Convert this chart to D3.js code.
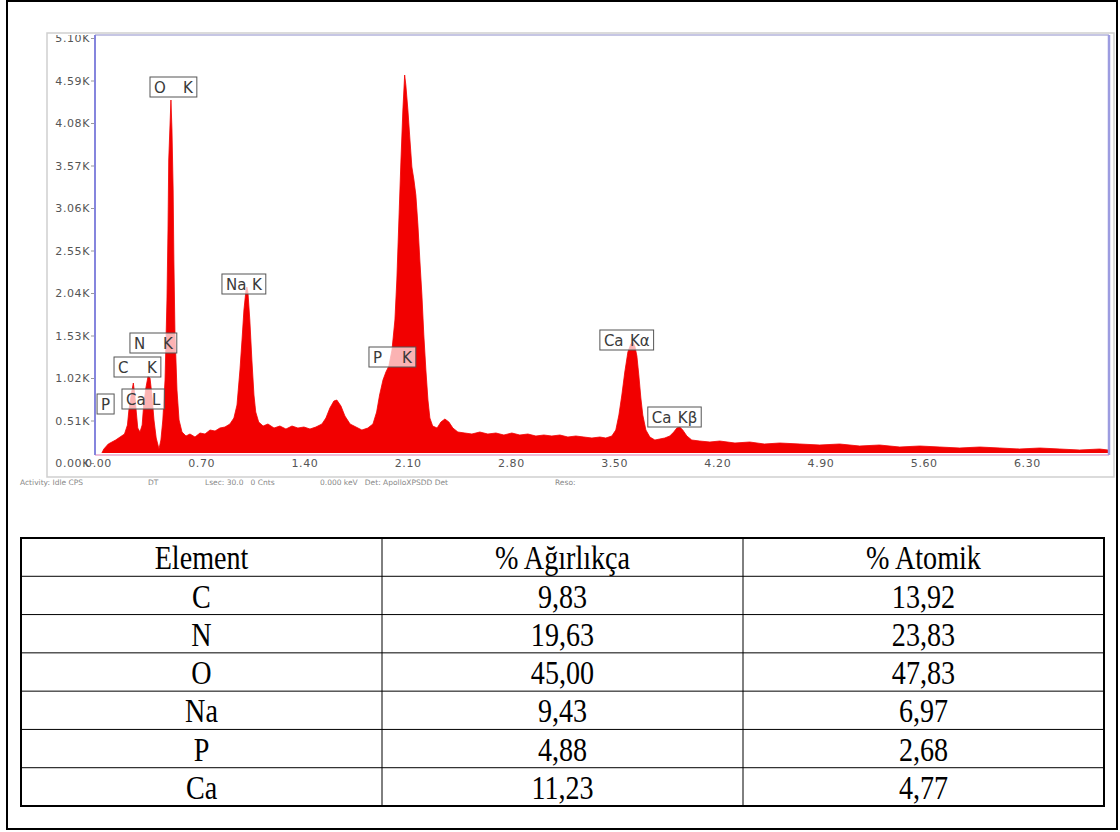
<!DOCTYPE html>
<html>
<head>
<meta charset="utf-8">
<title>EDS spektrumu</title>
<script src="https://d3js.org/d3.v7.min.js"></script>
<style>
  body { margin: 0; background: #fff; }
  svg { display: block; }
  .lbl text { font-family: "DejaVu Sans", Verdana, sans-serif; font-size: 15px; fill: #3a3a3a; }
  .tbl text { font-family: "Liberation Serif", "Times New Roman", serif; font-size: 29px; fill: #000; }
</style>
</head>
<body>
<svg id="chart" width="1120" height="832"></svg>
<script>
// spectrum: [keV, counts]
const spectrum = [
  [0.04, 96], [0.06, 168], [0.09, 228], [0.115, 252], [0.14, 276], [0.17, 312], [0.20, 348],
  [0.22, 456], [0.23, 636], [0.245, 816], [0.26, 960], [0.27, 816], [0.28, 612], [0.29, 420],
  [0.305, 372], [0.32, 456], [0.33, 696], [0.345, 900], [0.36, 1044], [0.373, 1020], [0.386, 816],
  [0.40, 516], [0.415, 300], [0.434, 168], [0.447, 276], [0.46, 516], [0.475, 996], [0.488, 1956],
  [0.495, 2796], [0.50, 3636], [0.51, 4116], [0.515, 4356], [0.522, 3996], [0.53, 3276],
  [0.535, 2436], [0.542, 1596], [0.556, 876], [0.57, 516], [0.59, 372], [0.617, 324], [0.644, 348],
  [0.678, 312], [0.712, 360], [0.746, 348], [0.78, 396], [0.814, 384], [0.847, 420], [0.881, 432],
  [0.915, 468], [0.942, 540], [0.963, 696], [0.983, 1116], [0.997, 1476], [1.01, 1836],
  [1.024, 2076], [1.03, 2112], [1.037, 2052], [1.05, 1716], [1.064, 1236], [1.078, 816],
  [1.09, 612], [1.11, 492], [1.14, 444], [1.173, 468], [1.214, 420], [1.254, 444], [1.295, 408],
  [1.336, 444], [1.376, 420], [1.417, 432], [1.458, 408], [1.498, 432], [1.539, 468], [1.566, 540],
  [1.593, 660], [1.62, 744], [1.64, 756], [1.668, 684], [1.695, 564], [1.73, 468], [1.77, 432],
  [1.81, 396], [1.85, 420], [1.885, 468], [1.91, 612], [1.93, 816], [1.953, 996], [1.973, 1092],
  [1.993, 1164], [2.014, 1356], [2.034, 1716], [2.047, 2196], [2.061, 2916], [2.075, 3636],
  [2.088, 4236], [2.10, 4656], [2.108, 4536], [2.122, 4236], [2.136, 3876], [2.149, 3552],
  [2.163, 3396], [2.176, 3216], [2.19, 2856], [2.203, 2436], [2.217, 2016], [2.23, 1536],
  [2.244, 1116], [2.258, 756], [2.271, 540], [2.29, 444], [2.32, 420], [2.346, 492], [2.373, 528],
  [2.40, 492], [2.427, 420], [2.461, 372], [2.508, 360], [2.556, 348], [2.61, 372], [2.664, 348],
  [2.719, 360], [2.773, 336], [2.827, 360], [2.881, 336], [2.936, 348], [2.99, 324], [3.044, 336],
  [3.098, 324], [3.153, 336], [3.207, 312], [3.261, 324], [3.315, 312], [3.37, 300], [3.424, 312],
  [3.464, 300], [3.505, 324], [3.532, 396], [3.553, 576], [3.573, 816], [3.593, 1092],
  [3.614, 1332], [3.634, 1428], [3.647, 1452], [3.661, 1404], [3.675, 1284], [3.688, 1056],
  [3.702, 780], [3.715, 576], [3.736, 396], [3.763, 312], [3.797, 276], [3.83, 288], [3.864, 300],
  [3.898, 324], [3.925, 372], [3.946, 420], [3.966, 432], [3.986, 396], [4.014, 324], [4.047, 276],
  [4.10, 264], [4.17, 252], [4.237, 264], [4.34, 240], [4.44, 252], [4.54, 228], [4.644, 240],
  [4.78, 228], [4.915, 216], [5.05, 228], [5.186, 204], [5.32, 216], [5.458, 192], [5.593, 204],
  [5.729, 192], [5.864, 180], [6.0, 192], [6.136, 180], [6.27, 168], [6.407, 180], [6.542, 168],
  [6.678, 156], [6.813, 168], [6.87, 156]
];

const yTicks = [0, 510, 1020, 1530, 2040, 2550, 3060, 3570, 4080, 4590, 5100];
const xTicks = [0, 0.7, 1.4, 2.1, 2.8, 3.5, 4.2, 4.9, 5.6, 6.3];

// peak labels: element, line, top-left anchor in [keV, counts]
const peakLabels = [
  { el: "P",  line: "",   keV: 0.014, cnt: 828 },
  { el: "Ca", line: "L",  keV: 0.183, cnt: 888 },
  { el: "C",  line: "K",  keV: 0.129, cnt: 1272 },
  { el: "N",  line: "K",  keV: 0.237, cnt: 1560 },
  { el: "O",  line: "K",  keV: 0.373, cnt: 4632 },
  { el: "Na", line: "K",  keV: 0.861, cnt: 2268 },
  { el: "P",  line: "K",  keV: 1.858, cnt: 1392 },
  { el: "Ca", line: "Kα", keV: 3.424, cnt: 1596 },
  { el: "Ca", line: "Kβ", keV: 3.749, cnt: 672 }
];

const tableHead = ["Element", "% Ağırlıkça", "% Atomik"];
const elements = ["C", "N", "O", "Na", "P", "Ca"];
const weightPct = ["9,83", "19,63", "45,00", "9,43", "4,88", "11,23"];
const atomicPct = ["13,92", "23,83", "47,83", "6,97", "2,68", "4,77"];

const statusText = ["Activity: Idle CPS", "DT", "Lsec: 30.0   0 Cnts", "0.000 keV   Det: ApolloXPSDD Det", "Reso:"];

const svg = d3.select("#chart");

// page frame
svg.append("rect").attr("x", 7).attr("y", 1).attr("width", 1110).attr("height", 828)
  .attr("fill", "#fff").attr("stroke", "#000").attr("stroke-width", 2);

// spectrum window
svg.append("rect").attr("x", 47).attr("y", 33).attr("width", 1067).attr("height", 444)
  .attr("fill", "#fff").attr("stroke", "#cfcfcf").attr("stroke-width", 1.5);

const x = d3.scaleLinear().domain([0, 6.87]).range([95, 1108]);
const y = d3.scaleLinear().domain([0, 5100]).range([463, 38]);

const plot = { x0: 95, y0: 35, x1: 1109, y1: 455 };

const defs = svg.append("defs");
defs.append("clipPath").attr("id", "plotclip")
  .append("rect").attr("x", plot.x0).attr("y", plot.y0)
  .attr("width", plot.x1 - plot.x0).attr("height", plot.y1 - plot.y0 - 2);
defs.append("clipPath").attr("id", "winclip")
  .append("rect").attr("x", 47).attr("y", 35).attr("width", 1067).attr("height", 442);

const area = d3.area()
  .x(d => x(d[0]))
  .y0(y(0))
  .y1(d => y(d[1]));

svg.append("path")
  .datum(spectrum)
  .attr("clip-path", "url(#plotclip)")
  .attr("fill", "#f20000")
  .attr("stroke", "#f20000")
  .attr("stroke-width", 0.8)
  .attr("d", area);

// plot borders
svg.append("line").attr("x1", plot.x0).attr("x2", plot.x1).attr("y1", plot.y0).attr("y2", plot.y0)
  .attr("stroke", "#c6c6e4").attr("stroke-width", 2);
svg.append("line").attr("x1", plot.x0).attr("x2", plot.x1).attr("y1", plot.y1).attr("y2", plot.y1)
  .attr("stroke", "#e7a8cc").attr("stroke-width", 1.5);
svg.append("line").attr("x1", plot.x0).attr("x2", plot.x0).attr("y1", plot.y0).attr("y2", plot.y1)
  .attr("stroke", "#8585dd").attr("stroke-width", 2);
svg.append("line").attr("x1", plot.x1).attr("x2", plot.x1).attr("y1", plot.y0).attr("y2", plot.y1)
  .attr("stroke", "#9c9ce0").attr("stroke-width", 2.5);

const tickFont = "'DejaVu Sans', Verdana, sans-serif";

// y axis
const yAxis = svg.append("g")
  .attr("clip-path", "url(#winclip)")
  .append("g")
  .attr("transform", `translate(${plot.x0 - 1},0)`)
  .call(d3.axisLeft(y).tickValues(yTicks).tickSize(3).tickPadding(1)
    .tickFormat(d => (d / 1000).toFixed(2) + "K"));
yAxis.select(".domain").remove();
yAxis.selectAll("line").attr("stroke", "#999");
yAxis.selectAll("text").attr("fill", "#555")
  .style("font-family", tickFont).style("font-size", "11px").style("letter-spacing", "0.6px");

// x axis
const xAxis = svg.append("g")
  .attr("transform", `translate(0,${plot.y1})`)
  .call(d3.axisBottom(x).tickValues(xTicks).tickSize(0).tickPadding(4)
    .tickFormat(d3.format(".2f")));
xAxis.select(".domain").remove();
xAxis.selectAll("text").attr("fill", "#555").attr("dx", 3)
  .style("font-family", tickFont).style("font-size", "11px").style("letter-spacing", "0.6px");

// status line under the spectrum
const statusX = [20, 148, 205, 320, 555];
svg.append("g").selectAll("text").data(statusText).join("text")
  .attr("x", (d, i) => statusX[i]).attr("y", 485)
  .attr("fill", "#888").style("font-family", tickFont).style("font-size", "7.5px")
  .style("white-space", "pre")
  .text(d => d);

// peak labels
const lbl = svg.append("g").attr("class", "lbl");
peakLabels.forEach(p => {
  const g = lbl.append("g").attr("transform", `translate(${x(p.keV)},${y(p.cnt)})`);
  const box = g.append("rect").attr("height", 20)
    .attr("fill", "#fff").attr("fill-opacity", 0.7)
    .attr("stroke", "#555").attr("stroke-width", 1);
  const t1 = g.append("text").attr("x", 4).attr("y", 16).text(p.el);
  let w = t1.node().getComputedTextLength() + 8;
  if (p.line) {
    const off = p.el.length > 1 ? 30 : 33;
    const t2 = g.append("text").attr("x", off).attr("y", 16).text(p.line);
    w = off + t2.node().getComputedTextLength() + 4;
  }
  box.attr("width", w);
});

// table
const cols = d3.scaleBand().domain([0, 1, 2]).range([21, 1104]);
const rows = d3.scaleBand().domain(d3.range(7)).range([538, 806]);
const tbl = svg.append("g").attr("class", "tbl");

const tableRows = [tableHead].concat(elements.map((e, i) => [e, weightPct[i], atomicPct[i]]));

tableRows.forEach((r, ri) => {
  r.forEach((c, ci) => {
    const cx = cols(ci) + cols.bandwidth() / 2;
    const by = rows(ri) + rows.bandwidth() - 7;
    tbl.append("text")
      .attr("transform", `translate(${cx},${by}) scale(0.97,1.16)`)
      .attr("text-anchor", "middle")
      .text(c);
  });
});

rows.domain().slice(1).forEach(ri => {
  tbl.append("line").attr("x1", 21).attr("x2", 1104)
    .attr("y1", rows(ri)).attr("y2", rows(ri))
    .attr("stroke", "#000").attr("stroke-width", 1);
});
[1, 2].forEach(ci => {
  tbl.append("line").attr("x1", cols(ci)).attr("x2", cols(ci))
    .attr("y1", 538).attr("y2", 806)
    .attr("stroke", "#000").attr("stroke-width", 1);
});
tbl.append("rect").attr("x", 21).attr("y", 538).attr("width", 1083).attr("height", 268)
  .attr("fill", "none").attr("stroke", "#000").attr("stroke-width", 2);
</script>
</body>
</html>
